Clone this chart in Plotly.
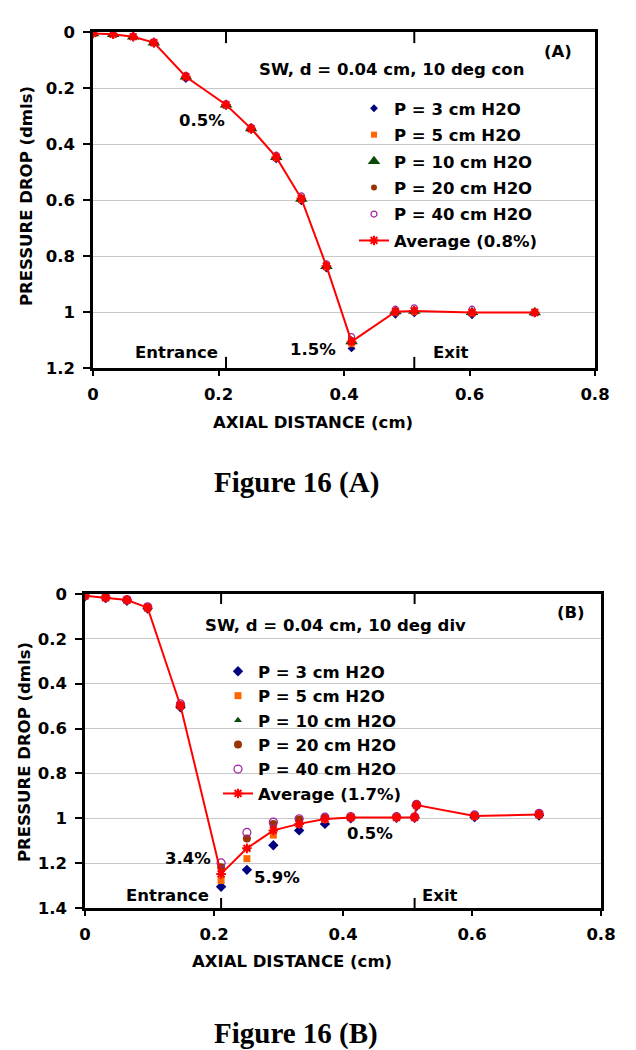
import plotly.graph_objects as go

W, H = 636, 1050

# ---------------- Data: Figure 16 (A) ----------------
x_A = [0, 0.032, 0.064, 0.097, 0.148, 0.212, 0.252, 0.292, 0.332, 0.372, 0.412, 0.482, 0.512, 0.604, 0.704]
p3_A = [0.006, 0.010, 0.020, 0.042, 0.168, 0.265, 0.350, 0.455, 0.605, 0.845, 1.130, 1.010, 1.005, 1.012, 1.005]
p5_A = [0.005, 0.009, 0.018, 0.040, 0.158, 0.262, 0.348, 0.450, 0.600, 0.840, 1.115, 1.002, 1.000, 1.005, 0.998]
p10_A = [0.005, 0.008, 0.017, 0.038, 0.160, 0.260, 0.345, 0.447, 0.596, 0.837, 1.105, 0.998, 0.996, 1.001, 1.002]
p20_A = [0.004, 0.007, 0.016, 0.036, 0.158, 0.258, 0.343, 0.444, 0.592, 0.833, 1.100, 0.996, 0.993, 0.998, 1.003]
p40_A = [0.004, 0.007, 0.015, 0.035, 0.155, 0.256, 0.340, 0.440, 0.585, 0.828, 1.088, 0.990, 0.985, 0.990, 1.003]
avg_A = [0.005, 0.008, 0.017, 0.038, 0.160, 0.260, 0.345, 0.447, 0.595, 0.836, 1.106, 0.999, 0.996, 1.002, 1.002]
gates_A = [0.212, 0.512]   # entrance / exit positions (cm)

# ---------------- Data: Figure 16 (B) ----------------
x_B = [0, 0.032, 0.065, 0.097, 0.148, 0.211, 0.251, 0.292, 0.332, 0.372, 0.412, 0.483, 0.511, 0.514, 0.604, 0.704]
p3_B = [0.010, 0.018, 0.030, 0.065, 0.505, 1.305, 1.230, 1.120, 1.054, 1.025, 1.000, 0.998, 0.998, 0.945, 0.995, 0.988]
p5_B = [0.009, 0.017, 0.028, 0.063, 0.500, 1.277, 1.180, 1.075, 1.025, 1.005, 0.997, 0.997, 0.997, 0.942, 0.992, 0.985]
p10_B = [0.008, 0.016, 0.027, 0.061, 0.498, 1.243, 1.135, 1.050, 1.018, 1.000, 0.996, 0.996, 0.996, 0.940, 0.995, 0.985]
p20_B = [0.007, 0.015, 0.026, 0.059, 0.495, 1.218, 1.090, 1.025, 1.005, 0.998, 0.995, 0.995, 0.995, 0.938, 0.988, 0.981]
p40_B = [0.006, 0.014, 0.025, 0.057, 0.490, 1.199, 1.063, 1.017, 1.002, 0.995, 0.992, 0.993, 0.994, 0.938, 0.985, 0.978]
avg_B = [0.008, 0.016, 0.027, 0.061, 0.498, 1.248, 1.134, 1.054, 1.025, 1.003, 0.996, 0.996, 0.996, 0.941, 0.990, 0.983]
gates_B = [0.211, 0.511]

names = ["P = 3 cm H2O", "P = 5 cm H2O", "P = 10 cm H2O", "P = 20 cm H2O", "P = 40 cm H2O"]
avg_name_A = "Average (0.8%)"
avg_name_B = "Average (1.7%)"

C_NAVY = "#000080"
C_ORANGE = "#FF6600"
C_GREEN = "#0B4A0B"
C_BROWN = "#993300"
C_PURPLE = "#A020A0"
C_RED = "#FF0000"

FONT = "DejaVu Sans"
FS = 16.5


def px(x):
    return x / W


def py(y):
    return 1 - y / H


fig = go.Figure()


def add_series(xs, series, avg, avg_name, xa, ya, legend, grp, sizes):
    styles = [
        dict(symbol="diamond", color=C_NAVY, size=sizes[0]),
        dict(symbol="square", color=C_ORANGE, size=sizes[1]),
        dict(symbol="triangle-up", color=C_GREEN, size=sizes[2]),
        dict(symbol="circle", color=C_BROWN, size=sizes[3]),
        dict(symbol="circle-open", color=C_PURPLE, size=sizes[4], line=dict(width=1.2, color=C_PURPLE)),
    ]
    for i, (ys, nm, st) in enumerate(zip(series, names, styles)):
        fig.add_trace(go.Scatter(
            x=xs, y=ys, name=nm, mode="markers", marker=st,
            xaxis=xa, yaxis=ya, legend=legend, legendgroup=f"{grp}{i}",
        ))
    fig.add_trace(go.Scatter(
        x=xs, y=avg, name=avg_name, mode="lines+markers",
        line=dict(color=C_RED, width=2),
        marker=dict(symbol="asterisk-open", size=8, color=C_RED, line=dict(color=C_RED, width=2)),
        xaxis=xa, yaxis=ya, legend=legend, legendgroup=f"{grp}avg",
    ))


add_series(x_A, [p3_A, p5_A, p10_A, p20_A, p40_A], avg_A, avg_name_A, "x", "y", "legend", "a",
           [6, 6, 11, 6, 6])
add_series(x_B, [p3_B, p5_B, p10_B, p20_B, p40_B], avg_B, avg_name_B, "x2", "y2", "legend2", "b",
           [8, 7, 7, 8, 8])

axis_common = dict(
    showline=True, linecolor="black", linewidth=2.5, mirror=True,
    ticks="outside", tickcolor="black", tickwidth=2, automargin=False,
    zeroline=False, tickfont=dict(family=FONT, size=FS, color="black", weight="bold"),
    fixedrange=True,
)

fig.update_layout(
    width=W, height=H,
    margin=dict(l=0, r=0, t=0, b=0, autoexpand=False),
    paper_bgcolor="white", plot_bgcolor="white",
    font=dict(family=FONT, size=FS, color="black", weight="bold"),
    xaxis=dict(domain=[px(93), px(595)], anchor="y", range=[0, 0.8], dtick=0.2,
               showgrid=False, ticklen=5, ticklabelstandoff=4, **axis_common),
    yaxis=dict(domain=[py(368), py(32)], anchor="x", range=[1.2, 0], dtick=0.2,
               showgrid=True, gridcolor="#c8c8c8", gridwidth=1, ticklen=7,
               ticklabelstandoff=5, **axis_common),
    xaxis2=dict(domain=[px(85), px(601)], anchor="y2", range=[0, 0.8], dtick=0.2,
                showgrid=False, ticklen=5, ticklabelstandoff=4, **axis_common),
    yaxis2=dict(domain=[py(908), py(594)], anchor="x2", range=[1.4, 0], dtick=0.2,
                showgrid=True, gridcolor="#c8c8c8", gridwidth=1, ticklen=7,
                ticklabelstandoff=5, **axis_common),
    legend=dict(x=px(394 - 40), y=py(91), xanchor="left", yanchor="top",
                bgcolor="rgba(0,0,0,0)", traceorder="grouped", tracegroupgap=2,
                font=dict(family=FONT, size=FS, color="black", weight="bold")),
    legend2=dict(x=px(258 - 40), y=py(654), xanchor="left", yanchor="top",
                 bgcolor="rgba(0,0,0,0)", traceorder="grouped", tracegroupgap=0,
                 font=dict(family=FONT, size=FS, color="black", weight="bold")),
    showlegend=True,
)

# Entrance / exit tick marks on the top and bottom frame
shapes = []
for xv in gates_A:
    shapes.append(dict(type="line", xref="x", yref="y domain", x0=xv, x1=xv, y0=0, y1=0.033,
                       line=dict(color="black", width=2)))
    shapes.append(dict(type="line", xref="x", yref="y domain", x0=xv, x1=xv, y0=0.967, y1=1,
                       line=dict(color="black", width=2)))
for xv in gates_B:
    shapes.append(dict(type="line", xref="x2", yref="y2 domain", x0=xv, x1=xv, y0=0, y1=0.032,
                       line=dict(color="black", width=2)))
    shapes.append(dict(type="line", xref="x2", yref="y2 domain", x0=xv, x1=xv, y0=0.968, y1=1,
                       line=dict(color="black", width=2)))
fig.update_layout(shapes=shapes)


def ann(text, x, y, size=FS, angle=0, family=FONT):
    fig.add_annotation(text=text, x=px(x), y=py(y), xref="paper", yref="paper",
                       xanchor="center", yanchor="middle", showarrow=False, textangle=angle,
                       font=dict(family=family, size=size, color="black", weight="bold"))


# Panel A texts
ann("SW, d = 0.04 cm, 10 deg con", 391, 69)
ann("(A)", 558, 51)
ann("0.5%", 202, 120)
ann("1.5%", 313, 349)
ann("Entrance", 176, 352)
ann("Exit", 451, 352)
ann("PRESSURE DROP (dmls)", 27, 196, angle=-90)
ann("AXIAL DISTANCE (cm)", 313, 422)
ann("Figure 16 (A)", 296, 483, size=29, family="Liberation Serif")

# Panel B texts
ann("SW, d = 0.04 cm, 10 deg div", 335, 625)
ann("(B)", 571, 612)
ann("3.4%", 188, 858)
ann("5.9%", 277, 877)
ann("0.5%", 370, 833)
ann("Entrance", 167, 895)
ann("Exit", 440, 895)
ann("PRESSURE DROP (dmls)", 24, 752, angle=-90)
ann("AXIAL DISTANCE (cm)", 292, 961)
ann("Figure 16 (B)", 296, 1033, size=29, family="Liberation Serif")

# Remove the browser's default page margin so the figure sits at the window's corner
fig.write_html("out.html", config={"displayModeBar": False},
               post_script="document.body.style.margin='0';")
